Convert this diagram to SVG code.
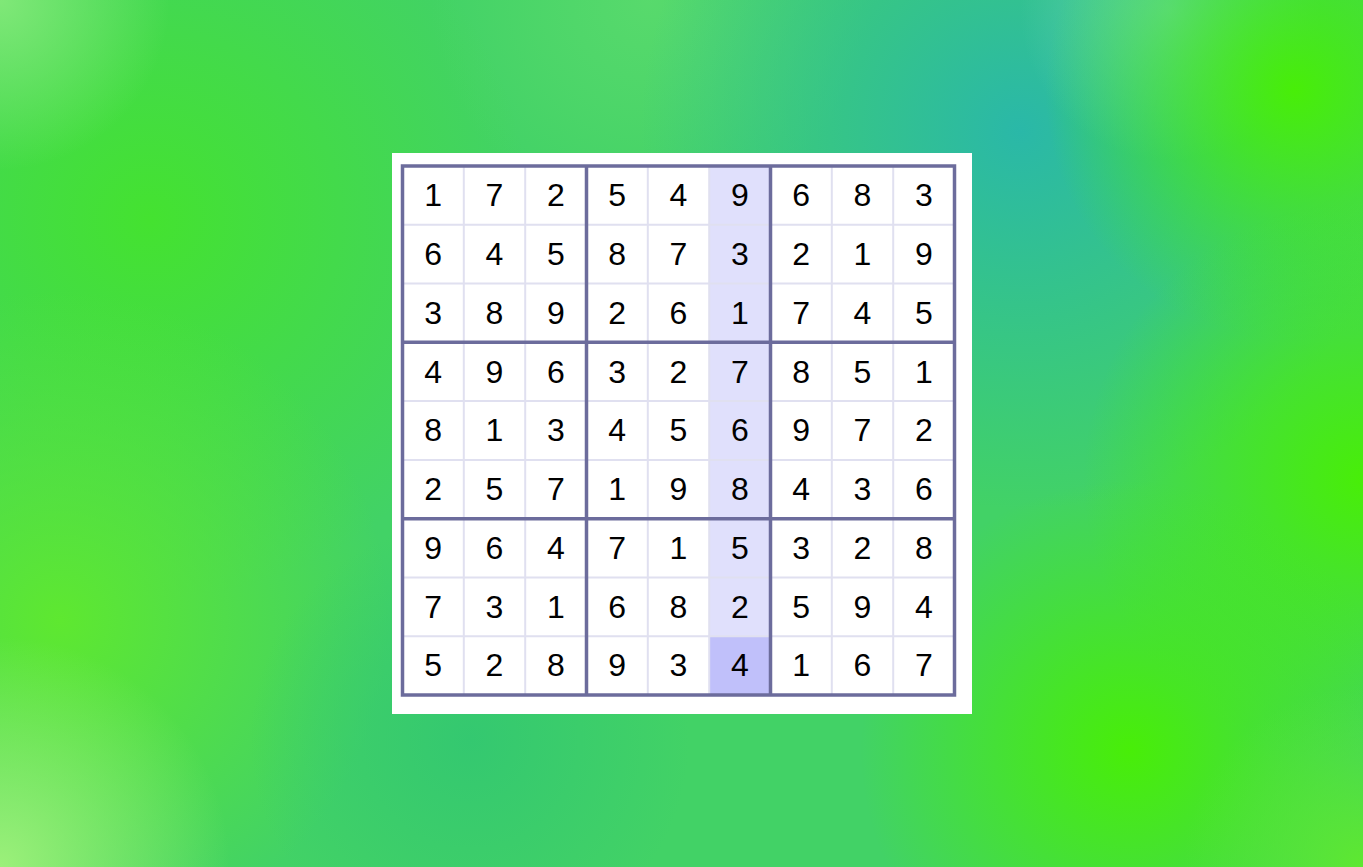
<svg xmlns="http://www.w3.org/2000/svg" width="1363" height="867" viewBox="0 0 1363 867">
<style>
.d{font-family:"Liberation Sans",Arial,sans-serif;font-size:32px;fill:#000;text-anchor:middle}
.thin{stroke:#e0e0f0;stroke-width:2;fill:none}
.thick{stroke:#6c6c9c;stroke-width:3.5;fill:none}
</style>
<defs>
<radialGradient id="g1"><stop offset="0" stop-color="#2ab8a8" stop-opacity="1"/><stop offset="1" stop-color="#2ab8a8" stop-opacity="0"/></radialGradient>
<radialGradient id="g2"><stop offset="0" stop-color="#48ee08" stop-opacity="1"/><stop offset="1" stop-color="#48ee08" stop-opacity="0"/></radialGradient>
<radialGradient id="g3"><stop offset="0" stop-color="#44e230" stop-opacity="1"/><stop offset="1" stop-color="#44e230" stop-opacity="0"/></radialGradient>
<radialGradient id="g4"><stop offset="0" stop-color="#5ee830" stop-opacity="1"/><stop offset="1" stop-color="#5ee830" stop-opacity="0"/></radialGradient>
<radialGradient id="g5"><stop offset="0" stop-color="#9cf07a" stop-opacity="1"/><stop offset="1" stop-color="#9cf07a" stop-opacity="0"/></radialGradient>
<radialGradient id="g6"><stop offset="0" stop-color="#34c870" stop-opacity="1"/><stop offset="1" stop-color="#34c870" stop-opacity="0"/></radialGradient>
<radialGradient id="g7"><stop offset="0" stop-color="#62d0b0" stop-opacity="1"/><stop offset="1" stop-color="#62d0b0" stop-opacity="0"/></radialGradient>
<radialGradient id="g8"><stop offset="0" stop-color="#80e878" stop-opacity="1"/><stop offset="1" stop-color="#80e878" stop-opacity="0"/></radialGradient>
</defs>
<g id="background">
<rect x="0" y="0" width="1363" height="867" fill="#42d266"/>
<circle cx="150" cy="220" r="380" fill="url(#g3)"/>
<circle cx="60" cy="620" r="330" fill="url(#g4)"/>
<circle cx="0" cy="867" r="230" fill="url(#g5)"/>
<circle cx="0" cy="0" r="170" fill="url(#g8)"/>
<circle cx="650" cy="0" r="220" fill="url(#g8)" opacity="0.35"/>
<circle cx="470" cy="740" r="220" fill="url(#g6)"/>
<circle cx="1020" cy="130" r="380" fill="url(#g1)"/>
<circle cx="1170" cy="10" r="150" fill="url(#g7)"/>
<circle cx="1295" cy="90" r="250" fill="url(#g2)"/>
<circle cx="1363" cy="480" r="280" fill="url(#g2)"/>
<circle cx="1130" cy="750" r="270" fill="url(#g2)"/>
<circle cx="1363" cy="867" r="180" fill="url(#g4)"/>
</g>
<g id="board">
<rect x="392" y="153" width="580" height="561" fill="#fff"/>
<rect x="709.2" y="166" width="61.3" height="470.2" fill="#e0e0fc"/>
<rect x="709.2" y="636.2" width="61.3" height="58.8" fill="#c0c0fa"/>
</g>
<g id="connectors">
<path class="thin" d="M463.8 166V695M525.2 166V695M647.8 166V695M709.2 166V695M831.8 166V695M893.2 166V695M402.5 224.8H954.5M402.5 283.6H954.5M402.5 401.1H954.5M402.5 459.9H954.5M402.5 577.5H954.5M402.5 636.2H954.5"/>
<path class="thick" d="M586.5 166V695M770.5 166V695M402.5 342.3H954.5M402.5 518.7H954.5"/>
<rect class="thick" x="402.5" y="166" width="552" height="529"/>
</g>
<g id="digits">
<g id="r0"><text class="d" x="433.2" y="206.2">1</text><text class="d" x="494.5" y="206.2">7</text><text class="d" x="555.8" y="206.2">2</text><text class="d" x="617.2" y="206.2">5</text><text class="d" x="678.5" y="206.2">4</text><text class="d" x="739.8" y="206.2">9</text><text class="d" x="801.2" y="206.2">6</text><text class="d" x="862.5" y="206.2">8</text><text class="d" x="923.8" y="206.2">3</text></g>
<g id="r1"><text class="d" x="433.2" y="265">6</text><text class="d" x="494.5" y="265">4</text><text class="d" x="555.8" y="265">5</text><text class="d" x="617.2" y="265">8</text><text class="d" x="678.5" y="265">7</text><text class="d" x="739.8" y="265">3</text><text class="d" x="801.2" y="265">2</text><text class="d" x="862.5" y="265">1</text><text class="d" x="923.8" y="265">9</text></g>
<g id="r2"><text class="d" x="433.2" y="323.8">3</text><text class="d" x="494.5" y="323.8">8</text><text class="d" x="555.8" y="323.8">9</text><text class="d" x="617.2" y="323.8">2</text><text class="d" x="678.5" y="323.8">6</text><text class="d" x="739.8" y="323.8">1</text><text class="d" x="801.2" y="323.8">7</text><text class="d" x="862.5" y="323.8">4</text><text class="d" x="923.8" y="323.8">5</text></g>
<g id="r3"><text class="d" x="433.2" y="382.6">4</text><text class="d" x="494.5" y="382.6">9</text><text class="d" x="555.8" y="382.6">6</text><text class="d" x="617.2" y="382.6">3</text><text class="d" x="678.5" y="382.6">2</text><text class="d" x="739.8" y="382.6">7</text><text class="d" x="801.2" y="382.6">8</text><text class="d" x="862.5" y="382.6">5</text><text class="d" x="923.8" y="382.6">1</text></g>
<g id="r4"><text class="d" x="433.2" y="441.4">8</text><text class="d" x="494.5" y="441.4">1</text><text class="d" x="555.8" y="441.4">3</text><text class="d" x="617.2" y="441.4">4</text><text class="d" x="678.5" y="441.4">5</text><text class="d" x="739.8" y="441.4">6</text><text class="d" x="801.2" y="441.4">9</text><text class="d" x="862.5" y="441.4">7</text><text class="d" x="923.8" y="441.4">2</text></g>
<g id="r5"><text class="d" x="433.2" y="500.2">2</text><text class="d" x="494.5" y="500.2">5</text><text class="d" x="555.8" y="500.2">7</text><text class="d" x="617.2" y="500.2">1</text><text class="d" x="678.5" y="500.2">9</text><text class="d" x="739.8" y="500.2">8</text><text class="d" x="801.2" y="500.2">4</text><text class="d" x="862.5" y="500.2">3</text><text class="d" x="923.8" y="500.2">6</text></g>
<g id="r6"><text class="d" x="433.2" y="558.9">9</text><text class="d" x="494.5" y="558.9">6</text><text class="d" x="555.8" y="558.9">4</text><text class="d" x="617.2" y="558.9">7</text><text class="d" x="678.5" y="558.9">1</text><text class="d" x="739.8" y="558.9">5</text><text class="d" x="801.2" y="558.9">3</text><text class="d" x="862.5" y="558.9">2</text><text class="d" x="923.8" y="558.9">8</text></g>
<g id="r7"><text class="d" x="433.2" y="617.7">7</text><text class="d" x="494.5" y="617.7">3</text><text class="d" x="555.8" y="617.7">1</text><text class="d" x="617.2" y="617.7">6</text><text class="d" x="678.5" y="617.7">8</text><text class="d" x="739.8" y="617.7">2</text><text class="d" x="801.2" y="617.7">5</text><text class="d" x="862.5" y="617.7">9</text><text class="d" x="923.8" y="617.7">4</text></g>
<g id="r8"><text class="d" x="433.2" y="676.4">5</text><text class="d" x="494.5" y="676.4">2</text><text class="d" x="555.8" y="676.4">8</text><text class="d" x="617.2" y="676.4">9</text><text class="d" x="678.5" y="676.4">3</text><text class="d" x="739.8" y="676.4">4</text><text class="d" x="801.2" y="676.4">1</text><text class="d" x="862.5" y="676.4">6</text><text class="d" x="923.8" y="676.4">7</text></g>
</g>
</svg>
